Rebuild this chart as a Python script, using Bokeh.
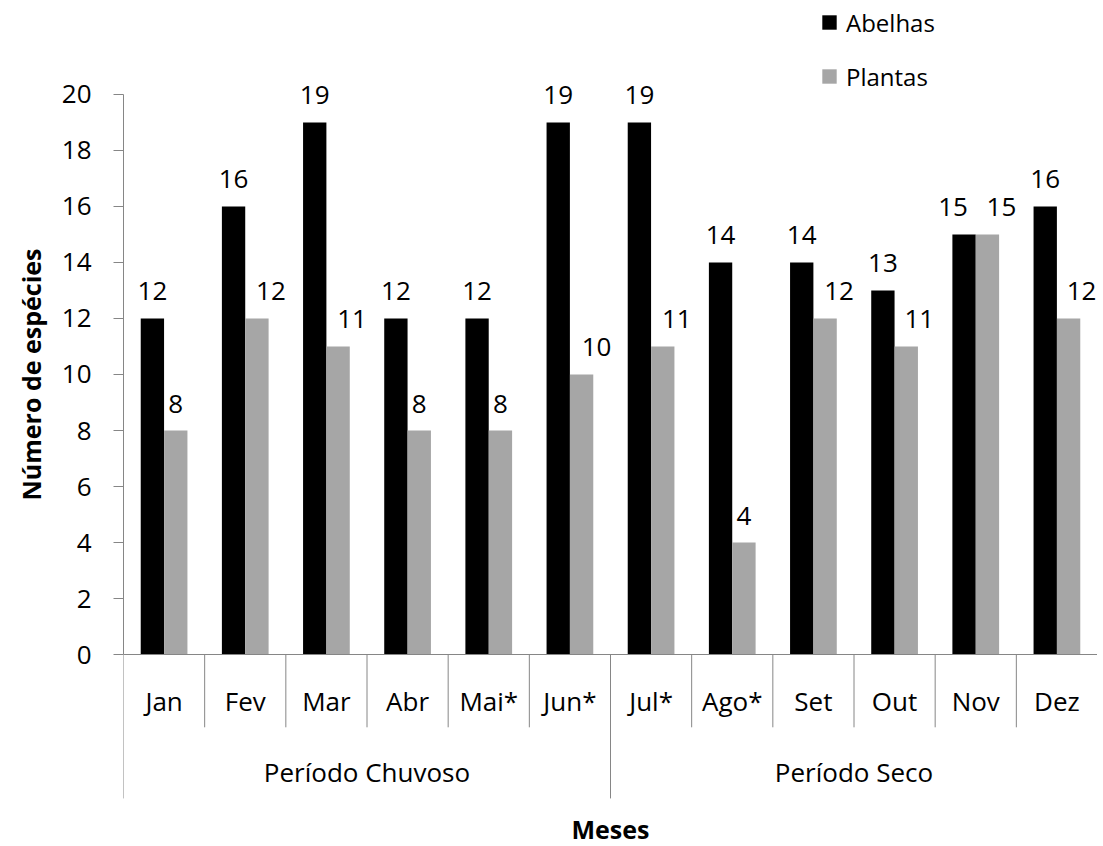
from bokeh.plotting import figure
from bokeh.models import ColumnDataSource, Range1d, FixedTicker, Legend, LegendItem, Span, Title
from bokeh.core.properties import value
from bokeh.embed import file_html
from bokeh.resources import INLINE

# ---- data ----
months = ["Jan", "Fev", "Mar", "Abr", "Mai*", "Jun*", "Jul*", "Ago*", "Set", "Out", "Nov", "Dez"]
abelhas = [12, 16, 19, 12, 12, 19, 19, 14, 14, 13, 15, 16]
plantas = [8, 12, 11, 8, 8, 10, 11, 4, 12, 11, 15, 12]
groups = ["Período Chuvoso", "Período Seco"]
group_sizes = [6, 6]
y_ticks = [0, 2, 4, 6, 8, 10, 12, 14, 16, 18, 20]
series_names = ["Abelhas", "Plantas"]

# ---- style ----
FONT = "Open Sans"
BLACK = "#000000"
GRAY = "#A6A6A6"
AXIS = "#868686"
BAR_W = 0.2875
OFF = 0.144
# horizontal nudges (px) of the value labels, as placed in the original chart
label_dx_a = [0, 0, 0, 0, 0, 0, 0, 0, 0, 0, -11, 0]
label_dx_p = [0, 14, 14, 0, 0, 15, 14, 0, 14, 13, 14, 13]

n = len(months)
centers = [i + 0.5 for i in range(n)]

p = figure(width=1097, height=846, output_backend="svg", toolbar_location=None, title=None,
           x_range=Range1d(0, n), y_range=Range1d(-6.857, 23.357),
           min_border_left=123, min_border_right=0, min_border_top=0, min_border_bottom=0,
           x_axis_location=None)
p.outline_line_color = None
p.grid.visible = False
p.background_fill_color = "white"

src = ColumnDataSource(dict(
    xa=[c - OFF for c in centers], xp=[c + OFF for c in centers],
    a=abelhas, pl=plantas,
    at=[str(v) for v in abelhas], pt=[str(v) for v in plantas],
    dxa=label_dx_a, dxp=label_dx_p,
))

ra = p.vbar(x="xa", top="a", bottom=0, width=BAR_W, source=src, fill_color=BLACK, line_color=None)
rp = p.vbar(x="xp", top="pl", bottom=0, width=BAR_W, source=src, fill_color=GRAY, line_color=None)

for xcol, ycol, tcol, dcol in (("xa", "a", "at", "dxa"), ("xp", "pl", "pt", "dxp")):
    p.text(x=xcol, y=ycol, text=tcol, source=src, text_align="center", text_baseline="alphabetic",
           x_offset=dcol, y_offset=-27, text_font=value(FONT), text_font_size="26px", text_color=BLACK)

# x axis line
p.add_layout(Span(location=0, dimension="width", line_color=AXIS, line_width=1))

# group boundaries
gb = [0]
for s in group_sizes:
    gb.append(gb[-1] + s)

# month separators & labels
month_bounds = [i for i in range(1, n) if i not in gb]
p.segment(x0=month_bounds, y0=[0] * len(month_bounds), x1=month_bounds, y1=[-2.6] * len(month_bounds),
          line_color=AXIS, line_width=1)
p.text(x=centers, y=[-1.668] * n, text=months, text_align="center", text_baseline="alphabetic",
       text_font=value(FONT), text_font_size="26px", text_color=BLACK)

# group separators & labels
p.segment(x0=gb, y0=[0] * len(gb), x1=gb, y1=[-5.14] * len(gb), line_color=AXIS, line_width=1)
gcenters = [(gb[k] + gb[k + 1]) / 2 for k in range(len(groups))]
p.text(x=gcenters, y=[-4.19] * len(groups), text=groups, text_align="center", text_baseline="alphabetic",
       text_font=value(FONT), text_font_size="26px", text_color=BLACK)

# x title
p.text(x=[n / 2], y=[-6.22], text=["Meses"], text_align="center", text_baseline="alphabetic",
       text_font=value(FONT), text_font_size="25px", text_font_style="bold", text_color=BLACK)

# y axis
ya = p.yaxis[0]
ya.ticker = FixedTicker(ticks=y_ticks)
ya.bounds = (0, 20)
ya.axis_line_color = AXIS
ya.major_tick_line_color = AXIS
ya.major_tick_out = 10
ya.major_tick_in = 0
ya.minor_tick_out = 0
ya.minor_tick_in = 0
ya.major_label_text_font = FONT
ya.major_label_text_font_size = "26px"
ya.major_label_text_color = BLACK
ya.major_label_standoff = 22

# y title, centred on the value axis (0..20) rather than on the whole frame
p.add_layout(Title(text="Número de espécies", align="left", offset=346, standoff=21,
                   text_font=FONT, text_font_size="25px", text_font_style="bold",
                   text_color=BLACK), "left")

legend = Legend(items=[LegendItem(label=series_names[0], renderers=[ra]),
                       LegendItem(label=series_names[1], renderers=[rp])],
                location=(697, 753), orientation="vertical",
                glyph_width=18, glyph_height=18, label_height=34, spacing=20,
                padding=0, margin=0, border_line_color=None, background_fill_alpha=0,
                label_text_font=FONT, label_text_font_size="24px", label_text_color=BLACK,
                label_standoff=8)
p.add_layout(legend)

open("out.html", "w").write(file_html(p, INLINE))
